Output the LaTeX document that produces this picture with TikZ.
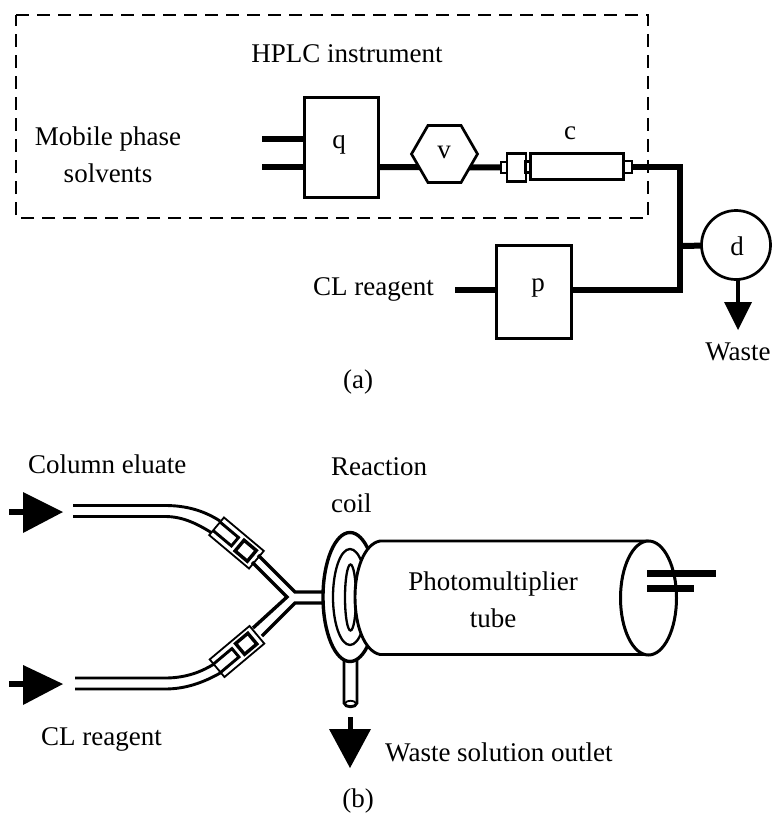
\documentclass[tikz,border=0pt]{standalone}
\usepackage{fontspec}
\setmainfont{Liberation Serif}
\usetikzlibrary{shapes.geometric,backgrounds}
\tikzset{
 x=1pt,y=-1pt,
 lbl/.style={inner sep=0pt,font=\fontsize{27}{37}\selectfont,align=center,text=black},
 pipe/.style={line width=6pt},
 boxx/.style={draw,line width=2.7pt,fill=white,inner sep=0pt,outer sep=0pt},
 outline/.style={line width=2.9pt},
 heavy/.style={line width=3.4pt},
 frame line/.style={line width=2.8pt,dash pattern=on 13pt off 8pt},
 tri/.style={fill=black,draw=none},
 sleeve/.style={line width=1.8pt,fill=white},
}
\begin{document}
\begin{tikzpicture}
\useasboundingbox (0,0) rectangle (771,813);
% ---------- (a) nodes
\node[boxx,minimum width=74pt,minimum height=100pt] (q) at (341.5,147.5) {};
\node[lbl] (qt) at (339,145) {q};
\node[boxx,regular polygon,regular polygon sides=6,minimum width=66pt] (v) at (444.5,154) {};
\node[lbl] (vt) at (444,152) {v};
\node[boxx,minimum width=93pt,minimum height=26pt] (c) at (577,166.5) {};
\node[lbl] (ct) at (570,133) {c};
\node[boxx,minimum width=19pt,minimum height=28pt] (fit) at (516.5,167.5) {};
\node[boxx,minimum width=6pt,minimum height=11pt] (fl) at (504,167.5) {};
\node[boxx,minimum width=5pt,minimum height=11pt] (fm) at (528,167) {};
\node[boxx,minimum width=8pt,minimum height=12pt] (fr) at (628,167) {};
\node[boxx,minimum width=75pt,minimum height=93pt] (p) at (534,292) {};
\node[lbl] (pt) at (538,288) {p};
\node[boxx,circle,minimum size=69pt] (d) at (736,245) {};
\node[lbl] (dt) at (737,246) {d};
\coordinate (qa) at (262,139);
\coordinate (qb) at (262,167);
\coordinate (jt) at (680,167);
\coordinate (jm) at (680,246);
\coordinate (jb) at (680,290);
\coordinate (cl) at (455,290);
\coordinate (dw) at (738,306);
\begin{scope}[on background layer]
\fill[white] (0,0) rectangle (771,813);
\draw[frame line] (16,15) -- (648,15) -- (648,218) -- (16,218) -- cycle;
\draw[pipe] (qa) -- (q.center |- qa);
\draw[pipe] (qb) -- (q.center |- qb);
\draw[pipe] (q.center |- qb) -- (fl.center);
\draw[pipe,line join=miter] (fr.center) -- (jt) -- (jb) -- (p.center |- jb);
\draw[pipe] (jm) -- (d.center);
\draw[pipe] (cl) -- (p.center |- cl);
\draw[line width=4.5pt] (738,280) -- (dw);
\end{scope}
\fill[tri] (724,302) -- (752,302) -- (738,330) -- cycle;
\node[lbl] (hplc) at (347,54) {HPLC instrument};
\node[lbl] (mobile) at (108,155) {Mobile phase\\solvents};
\node[lbl,anchor=east] (clr) at (434,289) {CL reagent};
\node[lbl] (waste) at (738,352) {Waste};
\node[lbl] (a) at (358,382) {(a)};
% ---------- (b) labels
\node[lbl,anchor=west] (ce) at (28,464) {Column eluate};
\node[lbl,anchor=west] (clb) at (41,739) {CL reagent};
\node[lbl,align=left,anchor=west] (rc) at (331,485) {Reaction\\coil};
\node[lbl,anchor=west] (wo) at (385,752) {Waste solution outlet};
\node[lbl] (b) at (358,801) {(b)};
% inlet arrows
\fill[tri] (23,492) -- (63,512) -- (23,533) -- cycle;
\draw[line width=5.5pt] (9,512) -- (30,512);
\fill[tri] (23,665) -- (63,684) -- (23,705) -- cycle;
\draw[line width=5.5pt] (9,684) -- (30,684);
% tubes
\draw[outline] (73,505.5) -- (165,505.5) .. controls (185,505.5) and (203,510) .. (220,521);
\draw[outline] (73,516.5) -- (165,516.5) .. controls (182,516.5) and (196,523) .. (212,533);
\draw[outline] (75,678) -- (165,678) .. controls (182,678) and (198,674) .. (214,664);
\draw[outline] (75,689) -- (165,689) .. controls (185,689) and (203,683) .. (222,672);
% sleeves
\begin{scope}[shift={(236.5,543)},rotate=-40]
\draw[sleeve] (-26,-11.5) rectangle (26,11.5);
\draw[outline] (-26,-5.5) -- (-2,-5.5) -- (-2,5.5) -- (-26,5.5);
\draw[heavy] (4,-7) rectangle (20,7);
\end{scope}
\begin{scope}[shift={(237,651.5)},rotate=40]
\draw[sleeve] (-26,-11.5) rectangle (26,11.5);
\draw[outline] (-26,-5.5) -- (-2,-5.5) -- (-2,5.5) -- (-26,5.5);
\draw[heavy] (4,-7) rectangle (20,7);
\end{scope}
% Y junction
\draw[heavy,line join=miter] (252,562) -- (287,597) -- (253,628);
\draw[heavy,line join=miter] (258,555) -- (295,592) -- (324,592);
\draw[heavy,line join=miter] (262,636) -- (295,603) -- (324,603);
% waste outlet
\draw[outline] (344,660) -- (344,703) .. controls (345,708) and (356,708) .. (357,703) -- (357,660);
\draw[outline,line width=1.8pt] (345,703) .. controls (347,700) and (354,700) .. (356,703);
\draw[line width=5pt] (350,717) -- (350,732);
\fill[tri] (329,729) -- (371,729) -- (350,768) -- cycle;
% reaction coil
\draw[heavy,fill=white] (350,597) ellipse [x radius=27,y radius=64.5];
\draw[line width=2.3pt] (350,597) ellipse [x radius=17,y radius=48];
\draw[line width=2.3pt] (350.5,597.5) ellipse [x radius=5.5,y radius=33];
% photomultiplier
\path[fill=white] (648,541) -- (380,541) .. controls (364,544) and (355,570) .. (355,597) .. controls (355,625) and (364,651) .. (380,654.5) -- (648,654.5) -- cycle;
\draw[outline] (648,541) -- (380,541) .. controls (364,544) and (355,570) .. (355,597) .. controls (355,625) and (364,651) .. (380,654.5) -- (648,654.5);
\draw[outline,line width=3pt,fill=white] (648.5,598) ellipse [x radius=28,y radius=57];
\draw[line width=7pt] (647,573) -- (716,573);
\draw[line width=7pt] (647,588) -- (694,588);
\node[lbl] (pm) at (493,600) {Photomultiplier\\tube};
\end{tikzpicture}
\end{document}
